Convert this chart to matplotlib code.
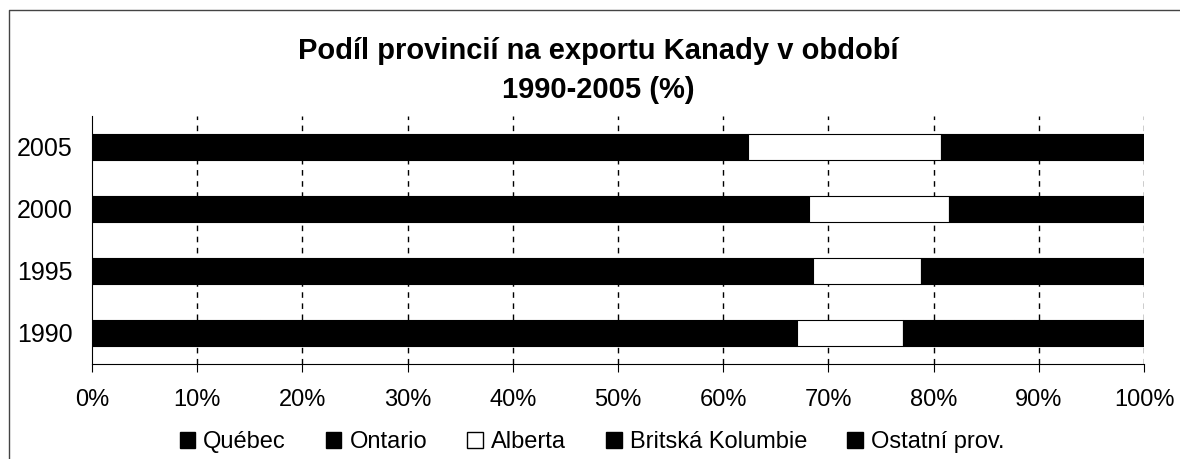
import matplotlib
matplotlib.use('Agg')
import matplotlib.pyplot as plt
from matplotlib.patches import Patch
from matplotlib.lines import Line2D
import numpy as np

plt.rcParams['font.family'] = ['Liberation Sans', 'DejaVu Sans']

years = ['1990', '1995', '2000', '2005']
provinces = ['Québec', 'Ontario', 'Alberta', 'Britská Kolumbie', 'Ostatní prov.']
# shares in % (black segments estimated)
quebec = [16.0, 15.4, 16.7, 15.7]
ontario = [51.0, 53.1, 51.5, 46.7]
alberta = [10.1, 10.3, 13.3, 18.3]
bc = [10.5, 9.7, 8.2, 8.0]
other = [12.4, 11.5, 10.3, 11.3]
series = [quebec, ontario, alberta, bc, other]
colors = ['black', 'black', 'white', 'black', 'black']

fig = plt.figure(figsize=(11.8, 4.59), dpi=100)
ax = fig.add_axes([92/1180, 1-364/459, (1144-92)/1180, (364-116)/459])

y = np.arange(len(years))
left = np.zeros(len(years))
for vals, c in zip(series, colors):
    ax.barh(y, vals, left=left, height=0.42, color=c, edgecolor='black',
            linewidth=0.8, zorder=3)
    left += np.array(vals)

ax.set_xlim(0, 100)
ax.set_ylim(-0.5, 3.5)
ax.set_xticks(np.arange(0, 101, 10))
ax.set_xticklabels([f'{v}%' for v in range(0, 101, 10)])
ax.set_yticks(y)
ax.set_yticklabels(years)
for v in range(10, 101, 10):
    ax.axvline(v, color='black', linestyle=(0, (4, 4)), linewidth=1, zorder=1)
ax.spines['top'].set_visible(False)
ax.spines['right'].set_visible(False)
ax.tick_params(axis='x', length=6, direction='out', pad=12, labelsize=17)
ax.tick_params(axis='y', length=0, pad=14, labelsize=18)

fig.text(0.507, 1-37/459, 'Podíl provincií na exportu Kanady v období\n1990-2005 (%)',
         ha='center', va='top', fontsize=21, fontweight='bold', linespacing=1.5)

handles = [Patch(facecolor=c, edgecolor='black', linewidth=1) for c in colors]
fig.legend(handles, provinces, loc='center', bbox_to_anchor=(592/1180, 1-442/459),
           ncol=5, frameon=False, fontsize=17, handlelength=0.65, handleheight=0.65,
           handletextpad=0.35, columnspacing=1.7)

# outer chart border (top and left visible)
fig.add_artist(Line2D([9/1180, 9/1180, 1], [0, 1-10/459, 1-10/459],
                      transform=fig.transFigure, color='#444444', linewidth=1))

fig.savefig('out.png', dpi=100)
